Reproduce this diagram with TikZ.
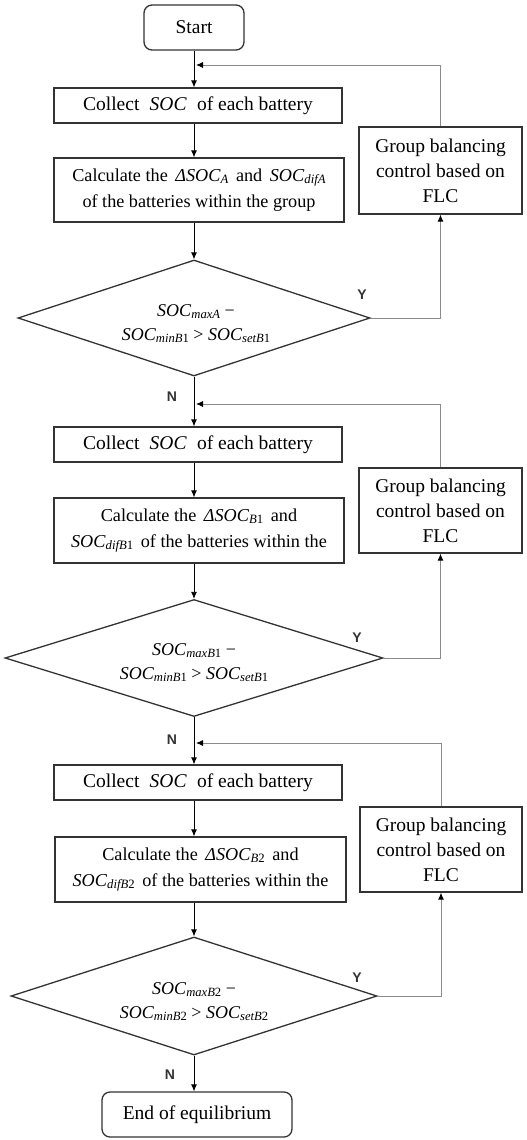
\documentclass[tikz,border=0pt]{standalone}
\usepackage{fontspec}
\usepackage{graphicx}
\setmainfont{Liberation Serif}
\newfontfamily\ynfont{Liberation Sans}
\usetikzlibrary{shapes.geometric,arrows.meta}
\newcommand{\sbs}[1]{\raisebox{-0.12em}{\scalebox{0.7}{\itshape #1}}}
\newcommand{\SOC}{\textit{SOC}}
\definecolor{edge}{HTML}{333333}
\definecolor{fbgray}{HTML}{8A8A8A}
\tikzset{
  box/.style={draw=edge, line width=1.3pt, inner sep=0pt, align=center, font=\fontsize{19.5}{25}\selectfont},
  calcbox/.style={box, font=\fontsize{18.2}{26}\selectfont},
  term/.style={box, rounded corners=8pt},
  dec/.style={draw=edge, line width=1.3pt, diamond, shape aspect=3, inner sep=0pt},
  dectext/.style={align=center, inner sep=0pt, font=\fontsize{18}{24}\selectfont},
  flow/.style={draw=black, line width=0.8pt, -{Latex[length=7pt,width=6pt]}},
  fb/.style={draw=fbgray, line width=0.9pt, -{Latex[length=7pt,width=6pt,color=black]}},
  yn/.style={font=\ynfont\bfseries\fontsize{14}{14}\selectfont, text=edge}
}
\begin{document}
\begin{tikzpicture}[x=1pt,y=-1pt]
\path[use as bounding box] (0,0) rectangle (527,1140);
% main column
\node[term, minimum width=100pt, minimum height=45pt] (start) at (194,27.5) {Start};
\node[box, minimum width=288pt, minimum height=35pt] (c1) at (198,105.5) {Collect \;\SOC\; of each battery};
\node[calcbox, minimum width=290pt, minimum height=64pt] (k1) at (199,190) {Calculate the \,\textit{ΔSOC}\sbs{A}\, and \,\SOC\sbs{difA}\\ of the batteries within the group};
\node[dec, minimum width=352pt, minimum height=116pt] (d1) at (194,318) {};
\node[dectext] (t1) at (196,324) {\SOC\sbs{maxA} −\\ \SOC\sbs{minB{\upshape 1}} > \SOC\sbs{setB{\upshape 1}}};
\node[box, minimum width=288pt, minimum height=35pt] (c2) at (198,444.5) {Collect \;\SOC\; of each battery};
\node[calcbox, minimum width=290pt, minimum height=65pt] (k2) at (199,530.5) {Calculate the \,\textit{ΔSOC}\sbs{B{\upshape 1}}\, and\\ \SOC\sbs{difB{\upshape 1}}\, of the batteries within the};
\node[dec, minimum width=378pt, minimum height=117pt] (d2) at (194,658) {};
\node[dectext] (t2) at (194,663) {\SOC\sbs{maxB{\upshape 1}} −\\ \SOC\sbs{minB{\upshape 1}} > \SOC\sbs{setB{\upshape 1}}};
\node[box, minimum width=288pt, minimum height=35pt] (c3) at (198,782.5) {Collect \;\SOC\; of each battery};
\node[calcbox, minimum width=291pt, minimum height=65pt] (k3) at (200.5,869.5) {Calculate the \,\textit{ΔSOC}\sbs{B{\upshape 2}}\, and\\ \SOC\sbs{difB{\upshape 2}}\, of the batteries within the};
\node[dec, minimum width=366pt, minimum height=118pt] (d3) at (194,996) {};
\node[dectext] (t3) at (194,1002) {\SOC\sbs{maxB{\upshape 2}} −\\ \SOC\sbs{minB{\upshape 2}} > \SOC\sbs{setB{\upshape 2}}};
\node[term, minimum width=190pt, minimum height=45pt] (end) at (197,1114.5) {End of equilibrium};
% side boxes
\node[box, minimum width=163pt, minimum height=87pt] (g1) at (440.5,170.5) {Group balancing\\ control based on\\ FLC};
\node[box, minimum width=163pt, minimum height=85pt] (g2) at (440.5,510.5) {Group balancing\\ control based on\\ FLC};
\node[box, minimum width=162pt, minimum height=85pt] (g3) at (441,849.5) {Group balancing\\ control based on\\ FLC};
% feedback join points
\coordinate (fb1) at (196,65);
\coordinate (fb2) at (196,404);
\coordinate (fb3) at (196,743);
% main arrows
\draw[flow] (start.south) -- (start.south |- c1.north);
\draw[flow] (c1.south -| start) -- (k1.north -| start);
\draw[flow] (k1.south -| start) -- (d1.north);
\draw[flow] (d1.south) -- (d1.south |- c2.north);
\draw[flow] (c2.south -| d1) -- (k2.north -| d1);
\draw[flow] (k2.south -| d1) -- (d2.north);
\draw[flow] (d2.south) -- (d2.south |- c3.north);
\draw[flow] (c3.south -| d2) -- (k3.north -| d2);
\draw[flow] (k3.south -| d2) -- (d3.north);
\draw[flow] (d3.south) -- (d3.south |- end.north);
% Y branches
\draw[fb] (d1.east) -| (g1.south);
\draw[fb] (d2.east) -| (g2.south);
\draw[fb] (d3.east) -| (g3.south);
% feedback
\draw[fb] (g1.north) |- (fb1);
\draw[fb] (g2.north) |- (fb2);
\draw[fb] (g3.north) |- (fb3);
% labels
\node[yn] (y1) at (362,295) {Y};
\node[yn] (y2) at (357,638) {Y};
\node[yn] (y3) at (357,978) {Y};
\node[yn] (n1) at (172,397) {N};
\node[yn] (n2) at (172,740) {N};
\node[yn] (n3) at (170,1075) {N};
\end{tikzpicture}
\end{document}
